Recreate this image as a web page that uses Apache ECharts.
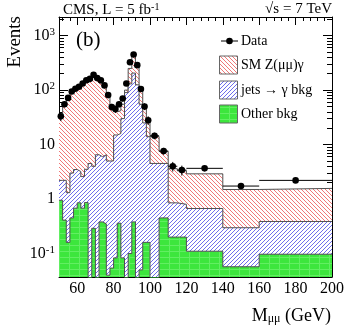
<!DOCTYPE html>
<html>
<head>
<meta charset="utf-8">
<title>M_mumu distribution</title>
<script src="https://cdn.jsdelivr.net/npm/echarts@6.0.0/dist/echarts.min.js"></script>
<style>
  html, body { margin: 0; padding: 0; background: #fff; }
  #main { width: 349px; height: 335px; }
</style>
</head>
<body>
<div id="main"></div>
<script>
// bin edges in GeV
var binEdges = [50, 52, 54, 56, 58, 60, 62, 64, 66, 68, 70, 72, 74, 76, 78, 80, 82, 84, 86, 88,
                90, 92, 94, 96, 98, 100, 105, 110, 115, 120, 140, 160, 200];

// stacked MC components, events per bin (0 = empty bin)
var otherBkg = [0.95, 0.41, 0.16, 0.45, 0.68, 0.85, 0.68, 0.86, 0, 0.29, 0, 0.38, 0.35, 0.04, 0.054, 0.083,
                0.36, 0.083, 0, 0.10, 0.38, 0, 0.05, 0.16, 0.16, 0, 0.45, 0.2, 0.2, 0.11, 0.057, 0.097];
var jetsBkg  = [1.25, 1.8, 1.15, 2.55, 2.8, 2.35, 1.9, 2.65, 4.5, 3.7, 6.5, 5.6, 6.15, 4.95, 4.95, 14.9,
                15.6, 29.9, 90, 130, 205, 125, 55, 24.8, 13.8, 4.5, 4.05, 0.65, 0.6, 0.56, 0.24, 0.29];
var zgSignal = [27.8, 47.8, 68, 85, 94.5, 105, 119, 134, 145, 166, 148, 129, 105, 70, 43, 25,
                26, 25, 10, 120, 215, 135, 45, 21, 12, 9.5, 3, 2.75, 2.5, 2.23, 1.2, 1.18];

// data
var dataY   = [33, 55, 72, 94, 106, 115, 132, 152, 161, 191, 166, 152, 122, 81, 49, 45,
               55, 70, 132, 325, 452, 287, 105, 50, 28, 14.5, 7.6, 4.0, 3.4, 3.66, 1.73, 2.2];
var dataErr = [6, 7, 9, 10, 10, 11, 11, 12, 13, 14, 13, 12, 11, 9, 7, 7,
               7, 8, 11, 18, 21, 17, 10, 7, 5, 2, 1.1, 0.8, 0.7, 0.3, 0.2, 0.2];

// axis ticks
var xMajor = [60, 80, 100, 120, 140, 160, 180, 200];
var xMinor = [52, 56, 64, 68, 72, 76, 84, 88, 92, 96, 104, 108, 112, 116, 124, 128, 132, 136,
              144, 148, 152, 156, 164, 168, 172, 176, 184, 188, 192, 196];
var yMajor = [0.1, 1, 10, 100, 1000];
var yMinor = [0.04, 0.05, 0.06, 0.07, 0.08, 0.09, 0.2, 0.3, 0.4, 0.5, 0.6, 0.7, 0.8, 0.9,
              2, 3, 4, 5, 6, 7, 8, 9, 20, 30, 40, 50, 60, 70, 80, 90,
              200, 300, 400, 500, 600, 700, 800, 900, 2000];

var FONT = 'Liberation Serif';
var Y_MIN = 0.037, Y_MAX = 2200;

// hatch tile: white background, one-pixel diagonal lines
function hatch(r, g, b, slash) {
    var size = 8;
    var c = document.createElement('canvas');
    c.width = size; c.height = size;
    var ctx = c.getContext('2d');
    var img = ctx.createImageData(size, size);
    for (var y = 0; y < size; y++) {
        for (var x = 0; x < size; x++) {
            var d = slash ? (x + y) % 4 : (x - y + 8) % 4;
            var p = (y * size + x) * 4;
            var on = d === 0;
            img.data[p] = on ? r : 255;
            img.data[p + 1] = on ? g : 255;
            img.data[p + 2] = on ? b : 255;
            img.data[p + 3] = 255;
        }
    }
    ctx.putImageData(img, 0, 0);
    return c;
}
function greenFill() {
    var c = document.createElement('canvas');
    c.width = 10; c.height = 6;
    var g = c.getContext('2d');
    g.fillStyle = '#3de63d';
    g.fillRect(0, 0, 10, 6);
    g.fillStyle = '#62ee62';
    g.fillRect(0, 5, 10, 1);
    g.fillRect(9, 0, 1, 6);
    return c;
}
var redPat = { image: hatch(240, 120, 120, false), repeat: 'repeat' };
var bluePat = { image: hatch(110, 110, 235, true), repeat: 'repeat' };
var greenPat = { image: greenFill(), repeat: 'repeat' };

// cumulative stack tops
var n = dataY.length;
var cumGreen = [], cumBlue = [], cumTotal = [];
for (var i = 0; i < n; i++) {
    cumGreen.push(otherBkg[i]);
    cumBlue.push(otherBkg[i] + jetsBkg[i]);
    cumTotal.push(otherBkg[i] + jetsBkg[i] + zgSignal[i]);
}
function steps(arr) {
    var d = [];
    for (var i = 0; i < arr.length; i++) d.push([binEdges[i], arr[i] > 0 ? arr[i] : 1e-4]);
    d.push([binEdges[arr.length], arr[arr.length - 1] > 0 ? arr[arr.length - 1] : 1e-4]);
    return d;
}
function histSeries(name, arr, pat, z) {
    return {
        name: name, type: 'line', step: 'end', data: steps(arr),
        symbol: 'none', silent: true, z: z, clip: true,
        lineStyle: { color: '#505050', width: 1 },
        areaStyle: { origin: 'start', color: pat, opacity: 1 }
    };
}

var points = [];
for (var j = 0; j < n; j++) {
    points.push([(binEdges[j] + binEdges[j + 1]) / 2, dataY[j], binEdges[j], binEdges[j + 1],
                 dataY[j] - dataErr[j], dataY[j] + dataErr[j]]);
}

function xAx(pos, ticks, len, lineOn, labelsOn) {
    return {
        type: 'value', position: pos, min: 50, max: 200,
        axisLine: { show: lineOn, onZero: false, lineStyle: { color: '#000', width: 1 } },
        axisTick: { show: true, inside: true, length: len, customValues: ticks, lineStyle: { color: '#000' } },
        axisLabel: { show: labelsOn, customValues: ticks, margin: 4, fontFamily: FONT, fontSize: 16, color: '#000' },
        splitLine: { show: false }
    };
}
function yAx(pos, ticks, len, lineOn, labelsOn) {
    return {
        type: 'log', logBase: 10, position: pos, min: Y_MIN, max: Y_MAX,
        axisLine: { show: lineOn, onZero: false, lineStyle: { color: '#000', width: 1 } },
        axisTick: { show: true, inside: true, length: len, customValues: ticks, lineStyle: { color: '#000' } },
        axisLabel: {
            show: labelsOn, customValues: ticks, margin: 4, fontFamily: FONT, fontSize: 16, color: '#000',
            formatter: function (v) {
                var e = Math.round(Math.log10(v));
                if (e === 0) return '1';
                if (e === 1) return '10';
                return '10{sup|' + e + '}';
            },
            rich: { sup: { fontSize: 11, fontFamily: FONT, color: '#000', verticalAlign: 'top', padding: [0, 0, 7, 0] } }
        },
        splitLine: { show: false }
    };
}

var chart = echarts.init(document.getElementById('main'));
chart.setOption({
    animation: false,
    backgroundColor: '#fff',
    grid: { left: 59, right: 17, top: 17, bottom: 58, containLabel: false, outerBoundsMode: 'none' },
    xAxis: [
        xAx('bottom', xMajor, 8, true, true),
        xAx('bottom', xMinor, 4, false, false),
        xAx('top', xMajor, 8, true, false),
        xAx('top', xMinor, 4, false, false)
    ],
    yAxis: [
        yAx('left', yMajor, 9, true, true),
        yAx('left', yMinor, 5, false, false),
        yAx('right', yMajor, 9, true, false),
        yAx('right', yMinor, 5, false, false)
    ],
    series: [
        histSeries('SM Z(μμ)γ', cumTotal, redPat, 1),
        histSeries('jets → γ bkg', cumBlue, bluePat, 2),
        histSeries('Other bkg', cumGreen, greenPat, 3),
        {
            name: 'Data', type: 'custom', z: 10, silent: true, data: points,
            renderItem: function (params, api) {
                var c = api.coord([api.value(0), api.value(1)]);
                var l = api.coord([api.value(2), api.value(1)]);
                var r = api.coord([api.value(3), api.value(1)]);
                var b = api.coord([api.value(0), api.value(4)]);
                var t = api.coord([api.value(0), api.value(5)]);
                return {
                    type: 'group', children: [
                        { type: 'line', shape: { x1: l[0], y1: c[1], x2: r[0], y2: c[1] }, style: { stroke: '#000', lineWidth: 1 } },
                        { type: 'line', shape: { x1: c[0], y1: b[1], x2: c[0], y2: t[1] }, style: { stroke: '#000', lineWidth: 1 } },
                        { type: 'circle', shape: { cx: c[0], cy: c[1], r: 3.3 }, style: { fill: '#000' } }
                    ]
                };
            }
        }
    ],
    graphic: [
        { type: 'text', left: 63, top: 2, style: { text: 'CMS, L = 5 fb{sup|-1}', font: '15px ' + FONT, fill: '#000',
            rich: { sup: { fontSize: 10, fontFamily: FONT, verticalAlign: 'top', padding: [0, 0, 6, 0] } } } },
        { type: 'text', right: 17, top: 2, style: { text: '√s = 7 TeV', font: '15px ' + FONT, fill: '#000' } },
        { type: 'text', left: 76, top: 30, style: { text: '(b)', font: '21px ' + FONT, fill: '#000' } },
        { type: 'text', x: 15, y: 16, rotation: Math.PI / 2,
            style: { text: 'Events', font: '19px ' + FONT, fill: '#000', align: 'right', verticalAlign: 'middle' } },
        { type: 'text', x: 331, y: 316,
            style: { text: 'M{sub|μμ} (GeV)', font: '18px ' + FONT, fill: '#000', align: 'right', verticalAlign: 'middle',
                rich: { sub: { fontSize: 12, fontFamily: FONT, verticalAlign: 'bottom', padding: [6, 0, 0, 0] } } } },
        // legend
        { type: 'line', shape: { x1: 221, y1: 41, x2: 238, y2: 41 }, style: { stroke: '#000', lineWidth: 1 } },
        { type: 'circle', shape: { cx: 229.5, cy: 41, r: 3.3 }, style: { fill: '#000' } },
        { type: 'text', x: 241, y: 41, style: { text: 'Data', font: '14px ' + FONT, fill: '#000', verticalAlign: 'middle' } },
        { type: 'rect', shape: { x: 219.5, y: 56, width: 18, height: 18 }, style: { fill: redPat, stroke: '#666', lineWidth: 1 } },
        { type: 'text', x: 241, y: 65, style: { text: 'SM Z(μμ)γ', font: '14px ' + FONT, fill: '#000', verticalAlign: 'middle' } },
        { type: 'rect', shape: { x: 219.5, y: 81, width: 18, height: 18 }, style: { fill: bluePat, stroke: '#666', lineWidth: 1 } },
        { type: 'text', x: 241, y: 90, style: { text: 'jets → γ bkg', font: '14px ' + FONT, fill: '#000', verticalAlign: 'middle' } },
        { type: 'rect', shape: { x: 219.5, y: 105, width: 18, height: 18 }, style: { fill: greenPat, stroke: '#666', lineWidth: 1 } },
        { type: 'text', x: 241, y: 114, style: { text: 'Other bkg', font: '14px ' + FONT, fill: '#000', verticalAlign: 'middle' } }
    ]
});
</script>
</body>
</html>
